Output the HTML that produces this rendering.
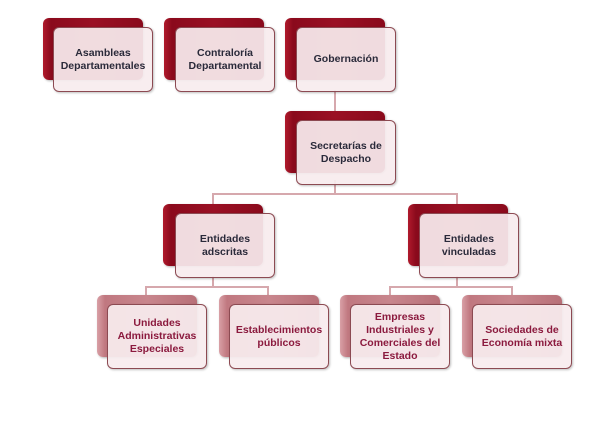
<!DOCTYPE html>
<html><head><meta charset="utf-8"><style>
body{margin:0;width:600px;height:433px;background:#fff;position:relative;overflow:hidden;font-family:"Liberation Sans",sans-serif}
.b{position:absolute;width:100px;height:62px;border-radius:6px;background:linear-gradient(90deg,#b01a2c 0%,#8a0a1c 8%,#9a1024 50%,#8a0a1c 100%);box-shadow:1px 1px 2px rgba(0,0,0,.3)}
.b.p{background:linear-gradient(90deg,#d9a0a6 0%,#c07880 8%,#c8868d 50%,#b87078 100%)}
.f{position:absolute;width:98px;height:63px;border-radius:6px;border:1px solid #8c4a52;background:rgba(248,236,238,.93);display:flex;align-items:center;justify-content:center;text-align:center;font-size:10.5px;font-weight:bold;color:#2a2a3a;line-height:13px;box-shadow:1px 1px 2px rgba(0,0,0,.25)}
.f.p{color:#8b1a3e}
.l{position:absolute;background:#d6a8ad}
</style></head><body>
<div class="l" style="left:334px;top:90px;width:2px;height:22px"></div>
<div class="l" style="left:334px;top:180px;width:2px;height:15px"></div>
<div class="l" style="left:212px;top:193px;width:246px;height:2px"></div>
<div class="l" style="left:212px;top:193px;width:2px;height:12px"></div>
<div class="l" style="left:456px;top:193px;width:2px;height:12px"></div>
<div class="l" style="left:212px;top:276px;width:2px;height:11px"></div>
<div class="l" style="left:145px;top:286px;width:124px;height:2px"></div>
<div class="l" style="left:145px;top:286px;width:2px;height:10px"></div>
<div class="l" style="left:267px;top:286px;width:2px;height:10px"></div>
<div class="l" style="left:456px;top:276px;width:2px;height:11px"></div>
<div class="l" style="left:389px;top:286px;width:124px;height:2px"></div>
<div class="l" style="left:389px;top:286px;width:2px;height:10px"></div>
<div class="l" style="left:511px;top:286px;width:2px;height:10px"></div>

<div class="b" style="left:43px;top:18px"></div><div class="f" style="left:53px;top:27px">Asambleas<br>Departamentales</div>
<div class="b" style="left:164px;top:18px"></div><div class="f" style="left:175px;top:27px">Contraloría<br>Departamental</div>
<div class="b" style="left:285px;top:18px"></div><div class="f" style="left:296px;top:27px">Gobernación</div>
<div class="b" style="left:285px;top:111px"></div><div class="f" style="left:296px;top:120px">Secretarías de<br>Despacho</div>
<div class="b" style="left:163px;top:204px"></div><div class="f" style="left:175px;top:213px">Entidades<br>adscritas</div>
<div class="b" style="left:408px;top:204px"></div><div class="f" style="left:419px;top:213px">Entidades<br>vinculadas</div>
<div class="b p" style="left:97px;top:295px"></div><div class="f p" style="left:107px;top:304px">Unidades<br>Administrativas<br>Especiales</div>
<div class="b p" style="left:219px;top:295px"></div><div class="f p" style="left:229px;top:304px">Establecimientos<br>públicos</div>
<div class="b p" style="left:340px;top:295px"></div><div class="f p" style="left:350px;top:304px">Empresas<br>Industriales y<br>Comerciales del<br>Estado</div>
<div class="b p" style="left:462px;top:295px"></div><div class="f p" style="left:472px;top:304px">Sociedades de<br>Economía mixta</div>
</body></html>
